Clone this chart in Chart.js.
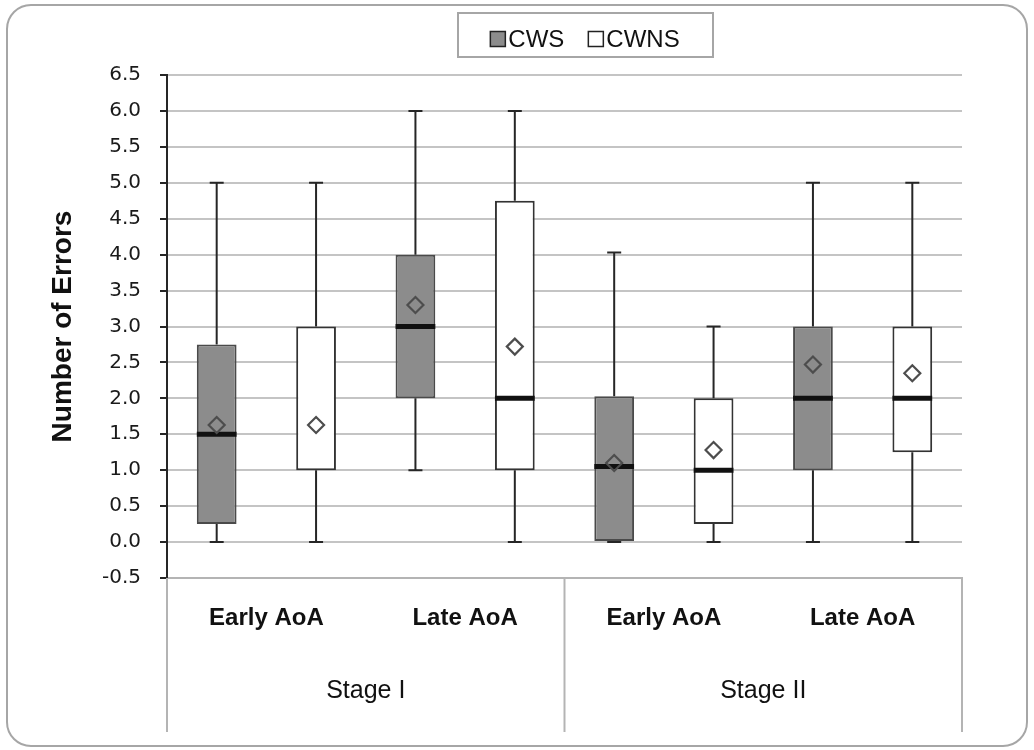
<!DOCTYPE html>
<html>
<head>
<meta charset="utf-8">
<script src="https://cdn.jsdelivr.net/npm/chart.js@4.4.1/dist/chart.umd.min.js"></script>
<style>
  html, body { margin: 0; padding: 0; background: #ffffff; }
  #wrap { width: 1034px; height: 750px; position: relative; }
</style>
</head>
<body>
<div id="wrap"><canvas id="c" width="1034" height="750"></canvas></div>
<script>
// ---- data ----
const categories = ['Early AoA', 'Late AoA', 'Early AoA', 'Late AoA'];
const stages = ['Stage I', 'Stage II'];
const seriesNames = ['CWS', 'CWNS'];
const yTicks = [-0.5, 0.0, 0.5, 1.0, 1.5, 2.0, 2.5, 3.0, 3.5, 4.0, 4.5, 5.0, 5.5, 6.0, 6.5];

const cwsMin    = [0,    1,   0,    0];
const cwsQ1     = [0.25, 2,   0,    1];
const cwsMedian = [1.5,  3,   1.05, 2];
const cwsQ3     = [2.75, 4,   2.03, 3];
const cwsMax    = [5,    6,   4.03, 5];
const cwsMean   = [1.63, 3.3, 1.1,  2.47];

const cwnsMin    = [0,    0,    0,    0];
const cwnsQ1     = [1,    1,    0.25, 1.25];
const cwnsMedian = [null, 2,    1,    2];
const cwnsQ3     = [3,    4.75, 2,    3];
const cwnsMax    = [5,    6,    3,    5];
const cwnsMean   = [1.63, 2.72, 1.28, 2.35];

const stats = [
  { min: cwsMin, q1: cwsQ1, median: cwsMedian, q3: cwsQ3, max: cwsMax, mean: cwsMean },
  { min: cwnsMin, q1: cwnsQ1, median: cwnsMedian, q3: cwnsQ3, max: cwnsMax, mean: cwnsMean }
];

const fills = ['#8c8c8c', '#ffffff'];
const borders = ['#4a4a4a', '#333333'];

// ---- plugins ----
const frame = {
  id: 'frame',
  beforeDraw(chart) {
    const ctx = chart.ctx;
    ctx.save();
    ctx.fillStyle = '#ffffff';
    ctx.fillRect(0, 0, chart.width, chart.height);
    ctx.strokeStyle = '#a6a6a6';
    ctx.lineWidth = 2;
    ctx.beginPath();
    ctx.roundRect(7, 5, chart.width - 14, chart.height - 9, 24);
    ctx.stroke();
    ctx.restore();
  },
  afterDraw(chart) {
    const ctx = chart.ctx;
    const ca = chart.chartArea;
    const x = chart.scales.x;
    ctx.save();
    // stage separators
    ctx.strokeStyle = '#b4b4b4';
    ctx.lineWidth = 2;
    const mid = (x.getPixelForValue(1) + x.getPixelForValue(2)) / 2;
    [ca.left, mid, ca.right].forEach(px => {
      ctx.beginPath();
      ctx.moveTo(px, ca.bottom);
      ctx.lineTo(px, 732);
      ctx.stroke();
    });
    // legend
    ctx.font = '24px "Liberation Sans", Arial, sans-serif';
    ctx.textBaseline = 'middle';
    ctx.textAlign = 'left';
    const marker = 15, gapM = 3, gapItem = 24;
    const widths = seriesNames.map(n => ctx.measureText(n).width);
    const total = widths.reduce((a, b) => a + b, 0) + seriesNames.length * (marker + gapM) + gapItem;
    const cx = 585, cy = 39;
    ctx.strokeStyle = '#a6a6a6';
    ctx.lineWidth = 2;
    ctx.strokeRect(458, 13, 255, 44);
    let px = cx - total / 2;
    seriesNames.forEach((n, i) => {
      ctx.fillStyle = fills[i];
      ctx.fillRect(px, cy - marker / 2, marker, marker);
      ctx.strokeStyle = '#222';
      ctx.lineWidth = 1.5;
      ctx.strokeRect(px, cy - marker / 2, marker, marker);
      ctx.fillStyle = '#111';
      ctx.fillText(n, px + marker + gapM, cy + 1);
      px += marker + gapM + widths[i] + gapItem;
    });
    ctx.restore();
  }
};

const boxPlot = {
  id: 'boxPlot',
  beforeDatasetsDraw(chart) {
    const ctx = chart.ctx, y = chart.scales.y;
    ctx.save();
    ctx.strokeStyle = '#262626';
    ctx.lineWidth = 2;
    chart.data.datasets.forEach((ds, di) => {
      const st = stats[di];
      chart.getDatasetMeta(di).data.forEach((bar, j) => {
        const xp = bar.x;
        const yMax = y.getPixelForValue(st.max[j]);
        const yQ3 = y.getPixelForValue(st.q3[j]);
        const yMin = y.getPixelForValue(st.min[j]);
        const yQ1 = y.getPixelForValue(st.q1[j]);
        ctx.beginPath();
        ctx.moveTo(xp, yMax); ctx.lineTo(xp, yQ3);
        ctx.moveTo(xp, yQ1); ctx.lineTo(xp, yMin);
        ctx.moveTo(xp - 7, yMax); ctx.lineTo(xp + 7, yMax);
        ctx.moveTo(xp - 7, yMin); ctx.lineTo(xp + 7, yMin);
        ctx.stroke();
      });
    });
    ctx.restore();
  },
  afterDatasetsDraw(chart) {
    const ctx = chart.ctx, y = chart.scales.y;
    ctx.save();
    chart.data.datasets.forEach((ds, di) => {
      const st = stats[di];
      chart.getDatasetMeta(di).data.forEach((bar, j) => {
        const xp = bar.x, w = bar.width;
        if (st.median[j] !== null) {
          const ym = y.getPixelForValue(st.median[j]);
          ctx.strokeStyle = '#111';
          ctx.lineWidth = 5;
          ctx.beginPath();
          ctx.moveTo(xp - w / 2, ym); ctx.lineTo(xp + w / 2, ym);
          ctx.stroke();
        }
        const yMean = y.getPixelForValue(st.mean[j]);
        const r = 8;
        ctx.beginPath();
        ctx.moveTo(xp, yMean - r);
        ctx.lineTo(xp + r, yMean);
        ctx.lineTo(xp, yMean + r);
        ctx.lineTo(xp - r, yMean);
        ctx.closePath();
        if (di === 1) { ctx.fillStyle = '#ffffff'; ctx.fill(); }
        ctx.strokeStyle = '#4d4d4d';
        ctx.lineWidth = 2.2;
        ctx.stroke();
      });
    });
    ctx.restore();
  }
};

// ---- chart ----
new Chart(document.getElementById('c'), {
  type: 'bar',
  data: {
    labels: categories,
    datasets: seriesNames.map((n, i) => ({
      label: n,
      data: stats[i].q1.map((v, k) => [v, stats[i].q3[k]]),
      backgroundColor: fills[i],
      borderColor: borders[i],
      borderWidth: 2,
      borderSkipped: false,
      categoryPercentage: 1.0,
      barPercentage: 0.4
    }))
  },
  options: {
    responsive: false,
    animation: false,
    events: [],
    layout: { padding: { left: 20, right: 72, top: 75, bottom: 20 } },
    plugins: {
      legend: { display: false },
      tooltip: { enabled: false },
      title: { display: false }
    },
    scales: {
      x: {
        type: 'category',
        position: 'bottom',
        offset: true,
        grid: { display: true, drawOnChartArea: false, drawTicks: false, color: 'rgba(0,0,0,0)' },
        border: { display: true, color: '#b4b4b4', width: 2 },
        ticks: {
          color: '#111',
          padding: 26,
          maxRotation: 0,
          font: { family: '"Liberation Sans", Arial, sans-serif', size: 24, weight: 'bold' }
        },
        afterFit(s) { s.height = 70; }
      },
      x2: {
        type: 'category',
        labels: stages,
        position: 'bottom',
        offset: true,
        grid: { display: false, drawTicks: false },
        border: { display: false },
        ticks: {
          color: '#111',
          padding: 28,
          maxRotation: 0,
          font: { family: '"Liberation Sans", Arial, sans-serif', size: 25 }
        },
        afterFit(s) { s.height = 82; }
      },
      y: {
        min: -0.5,
        max: 6.5,
        afterBuildTicks(s) { s.ticks = yTicks.map(v => ({ value: v })); },
        grid: {
          color: '#c4c4c4',
          lineWidth: 2,
          tickColor: '#262626',
          tickLength: 7,
          drawTicks: true
        },
        border: { display: true, color: '#262626', width: 2 },
        ticks: {
          color: '#1a1a1a',
          padding: 19,
          font: { family: '"DejaVu Sans", sans-serif', size: 20 },
          callback: v => Number(v).toFixed(1)
        },
        title: {
          display: true,
          text: 'Number of Errors',
          color: '#111',
          padding: { top: 26, bottom: 0 },
          font: { family: '"Liberation Sans", Arial, sans-serif', size: 28, weight: 'bold' }
        },
        afterFit(s) { s.width = 147; }
      }
    }
  },
  plugins: [frame, boxPlot]
});
</script>
</body>
</html>
